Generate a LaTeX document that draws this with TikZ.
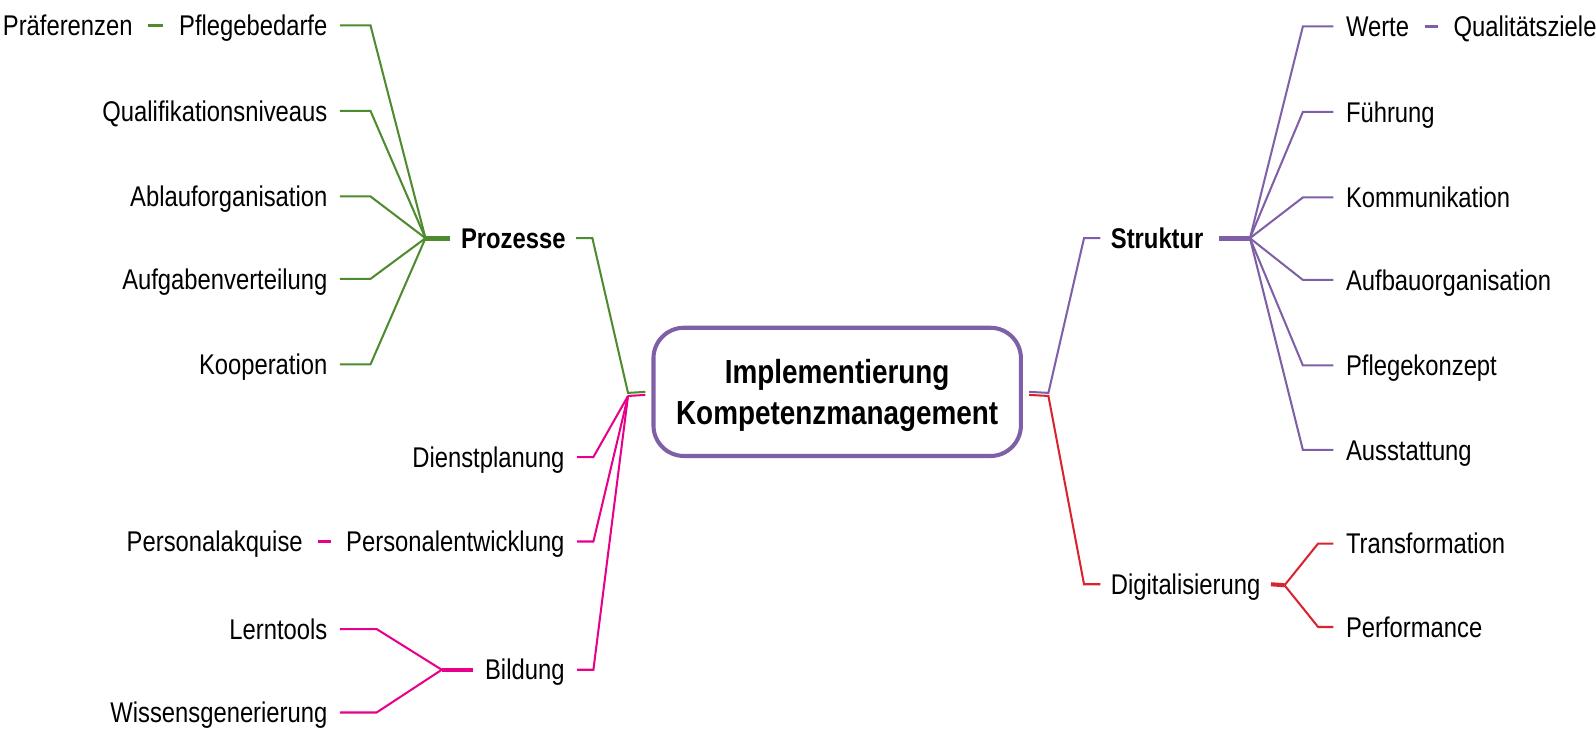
\documentclass[tikz,border=0pt]{standalone}
\usepackage{fontspec}
\setmainfont[FakeStretch=0.835]{Liberation Sans}
\usepackage{xcolor}
\definecolor{prozgreen}{HTML}{4E8A2E}
\definecolor{strukpurple}{HTML}{7F5FA6}
\definecolor{bildpink}{HTML}{E8008A}
\definecolor{digired}{HTML}{D9232D}
\tikzset{
  leaf/.style={inner xsep=6pt,inner ysep=2pt,text height=11pt,text depth=1pt,font=\fontsize{14}{16}\selectfont},
  mainbranch/.style={leaf,inner xsep=5pt,font=\fontsize{14}{16}\selectfont\bfseries},
  centre/.style={draw=strukpurple,line width=2pt,rounded corners=15pt,align=center,text depth=-2pt,
    minimum width=180.5pt,minimum height=63pt,font=\fontsize{16.4}{20.5}\selectfont\bfseries},
  gline/.style={draw=prozgreen,line width=1pt},
  pline/.style={draw=strukpurple,line width=1pt},
  mline/.style={draw=bildpink,line width=1pt},
  rline/.style={draw=digired,line width=1pt}
}

\begin{document}
\begin{tikzpicture}[x=0.5pt,y=-0.5pt]
\useasboundingbox (0,0) rectangle (1568,716);

\node[centre] (impl) at (822.5,385) {Implementierung\\Kompetenzmanagement};

% Prozesse
\coordinate (pj) at (617,386);
\node[mainbranch,anchor=east] (proz) at (566,234) {Prozesse};
\draw[gline] ([xshift=-3pt]impl.west) -- (pj) -- ([xshift=8pt]proz.east) -- (proz.east);
\coordinate (phub) at (418,234);
\draw[gline,line width=2.5pt] (proz.west) -- (phub);
\foreach \n/\y/\t in {pfl/25/Pflegebedarfe,qua/109/Qualifikationsniveaus,abl/193/Ablauforganisation,auf/274/Aufgabenverteilung,koo/358/Kooperation}{
  \node[leaf,anchor=east] (\n) at (334,\y) {\t};
  \draw[gline] (phub) -- ([xshift=15pt]\n.east) -- (\n.east);
}
\node[leaf,anchor=east] (pra) at ([xshift=-10.5pt]pfl.west) {Präferenzen};
\draw[gline,line width=1.5pt,shorten <=1.5pt,shorten >=1.5pt] (pfl.west) -- (pra.east);

% Personal und Bildung
\coordinate (mj) at (617,389);
\draw[mline] ([xshift=-3pt,yshift=-1.5pt]impl.west) -- (mj);
\foreach \n/\y/\t in {die/449/Dienstplanung,pen/532/Personalentwicklung,bil/658/Bildung}{
  \node[leaf,anchor=east] (\n) at (567,\y) {\t};
  \draw[mline] (mj) -- ([xshift=8pt]\n.east) -- (\n.east);
}
\node[leaf,anchor=east] (paq) at ([xshift=-9pt]pen.west) {Personalakquise};
\draw[mline,line width=1.5pt,shorten <=1.5pt,shorten >=1.5pt] (pen.west) -- (paq.east);
\coordinate (bhub) at (434,658);
\draw[mline,line width=2pt] (bil.west) -- (bhub);
\foreach \n/\y/\t in {ler/618/Lerntools,wis/700/Wissensgenerierung}{
  \node[leaf,anchor=east] (\n) at (334,\y) {\t};
  \draw[mline] (bhub) -- ([xshift=18pt]\n.east) -- (\n.east);
}

% Struktur
\coordinate (sj) at (1030,386);
\node[mainbranch,anchor=west] (stru) at (1081,234) {Struktur};
\draw[pline] ([xshift=3pt]impl.east) -- (sj) -- ([xshift=-8pt]stru.west) -- (stru.west);
\coordinate (shub) at (1228,234);
\draw[pline,line width=2.5pt] ([xshift=2.5pt]stru.east) -- (shub);
\foreach \n/\y/\t in {wer/26/Werte,fue/110/Führung,kom/194/Kommunikation,aub/275/Aufbauorganisation,pko/359/Pflegekonzept,aus/442/Ausstattung}{
  \node[leaf,anchor=west] (\n) at (1310,\y) {\t};
  \draw[pline] (shub) -- ([xshift=-15pt]\n.west) -- (\n.west);
}
\node[leaf,anchor=west] (qzi) at ([xshift=9.5pt]wer.east) {Qualitätsziele};
\draw[pline,line width=1.5pt,shorten <=1.5pt,shorten >=1.5pt] (wer.east) -- (qzi.west);

% Digitalisierung
\coordinate (dj) at (1030,389);
\node[leaf,inner xsep=5pt,anchor=west] (dig) at (1081,574) {Digitalisierung};
\draw[rline] ([xshift=3pt,yshift=-1.5pt]impl.east) -- (dj) -- ([xshift=-8pt]dig.west) -- (dig.west);
\coordinate (dhub) at (1262,575);
\draw[rline,line width=2pt] (dig.east) -- (dhub);
\foreach \n/\y/\t in {tra/534/Transformation,per/616/Performance}{
  \node[leaf,anchor=west] (\n) at (1310,\y) {\t};
  \draw[rline] (dhub) -- ([xshift=-7.5pt]\n.west) -- (\n.west);
}
\end{tikzpicture}
\end{document}
